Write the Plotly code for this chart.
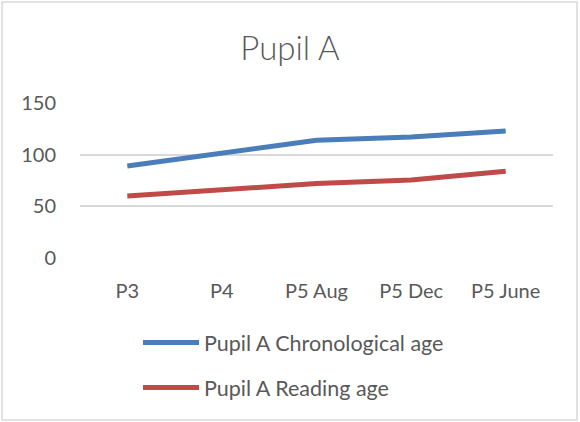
import plotly.graph_objects as go

categories = ["P3", "P4", "P5 Aug", "P5 Dec", "P5 June"]
chronological_age = [89, 102, 114, 117, 123]
reading_age = [60, 66, 72, 75.5, 84]
y_ticks = [0, 50, 100, 150]

W, H = 580, 422
L, R, T, B = 80, 27, 103, 164
pw, ph = W - L - R, H - T - B

font_family = "Lato, 'Open Sans', sans-serif"
text_color = "#595959"

fig = go.Figure()
fig.add_trace(go.Scatter(x=categories, y=chronological_age, mode="lines",
                         name="Pupil A Chronological age", legendgroup="a",
                         line=dict(color="#4A7EBB", width=5)))
fig.add_trace(go.Scatter(x=categories, y=reading_age, mode="lines",
                         name="Pupil A Reading age", legendgroup="b",
                         line=dict(color="#BE4B48", width=5)))

def px_to_paper_x(px):
    return (px - L) / pw

def px_to_paper_y(py):
    return (H - B - py) / ph

fig.update_layout(
    width=W, height=H,
    margin=dict(l=L, r=R, t=T, b=B),
    paper_bgcolor="white", plot_bgcolor="white",
    font=dict(family=font_family, color=text_color, size=20),
    title=dict(text="Pupil A", x=0.5, xanchor="center", y=1 - 48 / H, yanchor="middle",
               font=dict(size=33, color=text_color, weight=300)),
    xaxis=dict(type="category", range=[-0.5, len(categories) - 0.5], showgrid=False,
               showline=False, ticks="", ticklabelstandoff=19, tickfont=dict(size=20)),
    yaxis=dict(range=[0, 150], tickvals=y_ticks, showgrid=True, gridcolor="#D9D9D9",
               gridwidth=1.5, zeroline=False, showline=False, ticks="",
               ticklabelstandoff=23, tickfont=dict(size=20)),
    showlegend=True,
    legend=dict(orientation="v", x=px_to_paper_x(138), xanchor="left",
                y=px_to_paper_y(322), yanchor="top", tracegroupgap=14,
                itemwidth=56,
                font=dict(size=21.5, color=text_color), bgcolor="rgba(0,0,0,0)"),
    shapes=[dict(type="rect", xref="paper", yref="paper",
                 x0=px_to_paper_x(2), x1=px_to_paper_x(577),
                 y0=px_to_paper_y(420), y1=px_to_paper_y(2),
                 line=dict(color="#D9D9D9", width=1.5), fillcolor="rgba(0,0,0,0)",
                 layer="below")],
)

fig.write_html("out.html", config={"displayModeBar": False},
               post_script="document.body.style.margin='0px';")
